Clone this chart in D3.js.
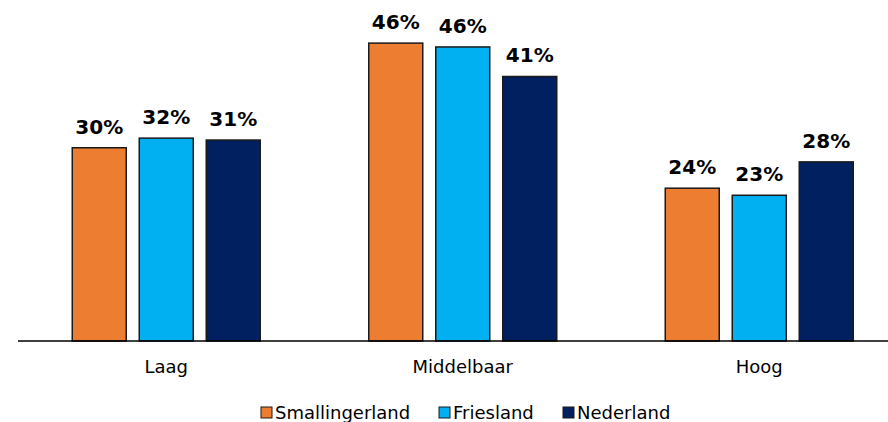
<!DOCTYPE html>
<html><head><meta charset="utf-8">
<script src="https://cdn.jsdelivr.net/npm/d3@7"></script>
<style>html,body{margin:0;padding:0;background:#fff;} svg{display:block;}</style>
</head><body>
<svg id="chart" width="888" height="422"></svg>
<script>
const categories = ["Laag", "Middelbaar", "Hoog"];
const seriesNames = ["Smallingerland", "Friesland", "Nederland"];
const smallingerland = [30.1, 46.4, 23.8];
const friesland = [31.6, 45.8, 22.7];
const nederland = [31.3, 41.2, 27.9];
const colors = ["#ED7D31", "#00B0F0", "#002060"];

const seriesValues = [smallingerland, friesland, nederland];
const svg = d3.select("#chart");
const font = "DejaVu Sans, Verdana, sans-serif";

const x0 = d3.scaleBand().domain(categories).range([18, 907.5]).paddingInner(0).paddingOuter(0);
const step = x0.bandwidth();
const x1 = d3.scaleBand().domain(seriesNames).range([step/2 - 94, step/2 + 94]).paddingInner(0.194).paddingOuter(0);
const y = d3.scaleLinear().domain([0, 50]).range([341, 20]);

const groups = svg.selectAll("g.cat").data(categories).enter().append("g")
  .attr("transform", d => `translate(${x0(d)},0)`);

groups.each(function(cat, ci) {
  const g = d3.select(this);
  seriesNames.forEach((s, si) => {
    const v = seriesValues[si][ci];
    g.append("rect")
      .attr("x", x1(s)).attr("y", y(v))
      .attr("width", x1.bandwidth()).attr("height", y(0) - y(v))
      .attr("fill", colors[si]).attr("stroke", "#1a1a1a").attr("stroke-width", 1.5);
    g.append("text")
      .attr("x", x1(s) + x1.bandwidth()/2).attr("y", y(v) - 14)
      .attr("text-anchor", "middle").attr("font-family", font)
      .attr("font-weight", "bold").attr("font-size", 20).attr("fill", "#000")
      .text(Math.round(v) + "%");
  });
});

// axis
const axis = d3.axisBottom(x0).tickSize(0).tickPadding(0);
const ax = svg.append("g").attr("transform", "translate(0,341)").call(axis);
ax.select(".domain").remove();
ax.selectAll("text").attr("font-family", font).attr("font-size", 18).attr("fill", "#000")
  .attr("dy", null).attr("y", 32);
svg.append("line").attr("x1", 18).attr("x2", 888).attr("y1", 341).attr("y2", 341)
  .attr("stroke", "#000").attr("stroke-width", 1.5);

// legend
const legendX = [261, 439, 563];
const leg = svg.append("g");
seriesNames.forEach((s, i) => {
  leg.append("rect").attr("x", legendX[i]).attr("y", 407).attr("width", 11).attr("height", 11)
    .attr("fill", colors[i]).attr("stroke", "#1a1a1a").attr("stroke-width", 1);
  leg.append("text").attr("x", legendX[i] + 14).attr("y", 419)
    .attr("font-family", font).attr("font-size", 18).attr("fill", "#000").text(s);
});
</script>
</body></html>
